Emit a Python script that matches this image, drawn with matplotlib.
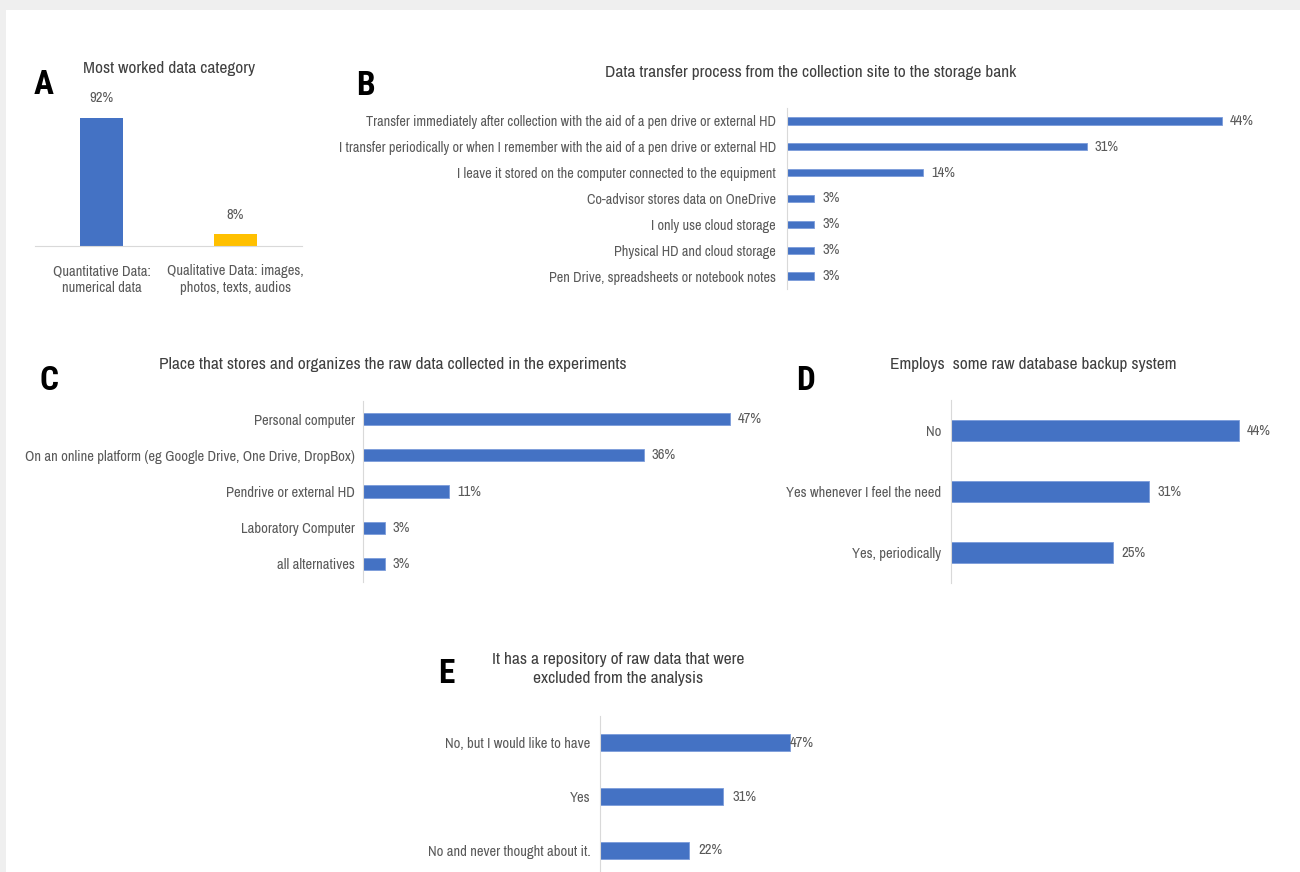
import matplotlib
matplotlib.use("Agg")
import matplotlib.pyplot as plt
from matplotlib.patches import Rectangle

# ---------------- data ----------------
a_title = "Most worked data category"
a_cats = ["Quantitative Data:\nnumerical data", "Qualitative Data: images,\nphotos, texts, audios"]
a_vals = [91.7, 8.3]
a_labels = ["92%", "8%"]

b_title = "Data transfer process from the collection site to the storage bank"
b_cats = ["Transfer immediately after collection with the aid of a pen drive or external HD",
          "I transfer periodically or when I remember with the aid of a pen drive or external HD",
          "I leave it stored on the computer connected to the equipment",
          "Co-advisor stores data on OneDrive",
          "I only use cloud storage",
          "Physical HD and cloud storage",
          "Pen Drive, spreadsheets or notebook notes"]
b_vals = [44.4, 30.6, 13.9, 2.8, 2.8, 2.8, 2.8]
b_labels = ["44%", "31%", "14%", "3%", "3%", "3%", "3%"]

c_title = "Place that stores and organizes the raw data collected in the experiments"
c_cats = ["Personal computer",
          "On an online platform (eg Google Drive, One Drive, DropBox)",
          "Pendrive or external HD",
          "Laboratory Computer",
          "all alternatives"]
c_vals = [47.2, 36.1, 11.1, 2.8, 2.8]
c_labels = ["47%", "36%", "11%", "3%", "3%"]

d_title = "Employs  some raw database backup system"
d_cats = ["No", "Yes whenever I feel the need", "Yes, periodically"]
d_vals = [44.4, 30.6, 25.0]
d_labels = ["44%", "31%", "25%"]

e_title = "It has a repository of raw data that were\nexcluded from the analysis"
e_cats = ["No, but I would like to have", "Yes", "No and never thought about it."]
e_vals = [47.2, 30.6, 22.2]
e_labels = ["47%", "31%", "22%"]

# ---------------- style ----------------
W, H = 1300, 872
BLUE = "#4472C4"
GOLD = "#FFC000"
GRAY = "#595959"
AXC = "#D9D9D9"
FONT = ["Archivo Narrow", "Roboto Condensed", "Liberation Sans", "DejaVu Sans"]
LETTER_FONT = ["Roboto Condensed", "Archivo Narrow", "Liberation Sans", "DejaVu Sans"]
plt.rcParams["font.family"] = FONT
FS = 10.5
VFS = 10.5
TFS = 12.5
LFS = 24
TCOL = "#404040"

fig = plt.figure(figsize=(W / 100, H / 100), dpi=100)
fig.patch.set_facecolor("#EFEFEF")
fig.add_artist(Rectangle((6 / W, 0), 1, 1 - 10 / H, transform=fig.transFigure,
                         facecolor="white", edgecolor="none", zorder=0))


def add_ax(x0, y0, x1, y1):
    ax = fig.add_axes([x0 / W, 1 - y1 / H, (x1 - x0) / W, (y1 - y0) / H])
    ax.patch.set_alpha(0)
    for s in ax.spines.values():
        s.set_visible(False)
    return ax


def ftext(x, y, s, **kw):
    fig.text(x / W, 1 - y / H, s, **kw)


def letter(x, y, s):
    ftext(x, y, s, ha="center", va="center", fontsize=LFS, fontweight="bold",
          color="black", family=LETTER_FONT)


def hbar_panel(x_axis, y_top, y_bot, px_per, xmax_px, cats, vals, labels, height,
               gaps, fs=FS, pad=9):
    n = len(cats)
    ax = add_ax(x_axis, y_top, x_axis + xmax_px, y_bot)
    xmax = xmax_px / px_per
    ax.barh(range(n), vals, height=height, color=BLUE, edgecolor="#7B9CDA", linewidth=0.6)
    ax.set_xlim(0, xmax)
    ax.set_ylim(n - 0.5, -0.5)
    ax.set_xticks([])
    ax.set_yticks(range(n))
    ax.set_yticklabels(cats, fontsize=fs, color=GRAY)
    ax.tick_params(axis="y", length=0, pad=pad)
    ax.spines["left"].set_visible(True)
    ax.spines["left"].set_color(AXC)
    for i, (v, l) in enumerate(zip(vals, labels)):
        ax.text(v + gaps[i] / px_per, i, l, va="center", ha="left",
                fontsize=VFS, color=GRAY)
    return ax


# ---------------- Panel A ----------------
axA = add_ax(35, 106, 302, 246)
axA.bar([0, 1], a_vals, width=0.32, color=[BLUE, GOLD])
axA.set_xlim(-0.5, 1.5)
axA.set_ylim(0, 100)
axA.set_yticks([])
axA.set_xticks([0, 1])
axA.set_xticklabels(a_cats, fontsize=FS, color=GRAY, linespacing=1.3)
axA.tick_params(axis="x", length=0, pad=13)
axA.spines["bottom"].set_visible(True)
axA.spines["bottom"].set_color(AXC)
for i, (v, l) in enumerate(zip(a_vals, a_labels)):
    axA.text(i, v + 9, l, ha="center", va="bottom", fontsize=VFS, color=GRAY)
ftext(169, 68, a_title, ha="center", va="center", fontsize=TFS, color=TCOL)
letter(44, 85, "A")

# ---------------- Panel B ----------------
hbar_panel(787, 108, 289, 9.8, 440, b_cats, b_vals, b_labels, 0.28, [8] * 7,
           fs=10.25, pad=8)
ftext(811, 72, b_title, ha="center", va="center", fontsize=TFS, color=TCOL)
letter(365, 86, "B")

# ---------------- Panel C ----------------
hbar_panel(363, 401, 582, 7.78, 400, c_cats, c_vals, c_labels, 0.34, [8] * 5, pad=6)
ftext(393, 364, c_title, ha="center", va="center", fontsize=TFS, color=TCOL)
letter(49, 381, "C")

# ---------------- Panel D ----------------
hbar_panel(951, 400, 583, 6.48, 340, d_cats, d_vals, d_labels, 0.34, [8] * 3, pad=7)
ftext(1033, 364, d_title, ha="center", va="center", fontsize=TFS, color=TCOL)
letter(805, 381, "D")

# ---------------- Panel E ----------------
hbar_panel(600, 716, 877, 4.02, 300, e_cats, e_vals, e_labels, 0.32, [0, 9, 9], pad=7)
ftext(618, 669, e_title, ha="center", va="center", fontsize=TFS, color=TCOL,
      linespacing=1.3)
letter(446, 674, "E")

fig.savefig("out.png", dpi=100, facecolor=fig.get_facecolor())
